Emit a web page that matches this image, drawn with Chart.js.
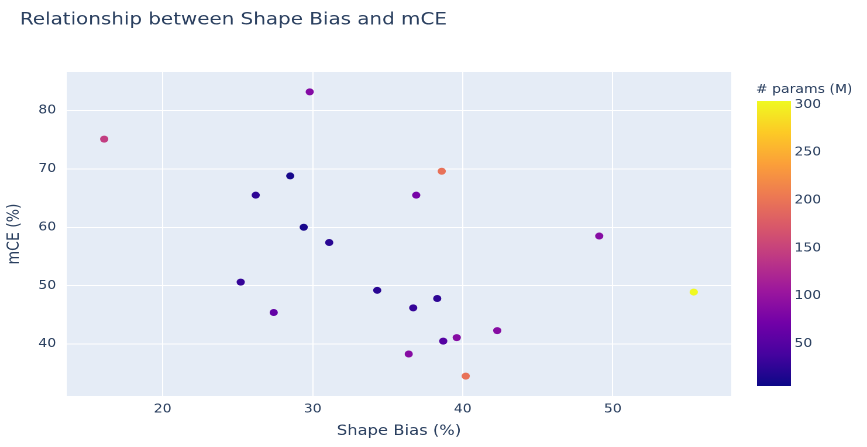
<!DOCTYPE html>
<html>
<head>
<meta charset="utf-8">
<script src="https://cdn.jsdelivr.net/npm/chart.js@4"></script>
<style>
  body { margin: 0; background: #fff; overflow: hidden; }
  /* the reference picture is stretched sideways, so draw narrower and widen */
  #wrap { width: 741px; height: 447px; position: relative; transform: scaleX(1.17); transform-origin: 0 0; }
</style>
</head>
<body>
<div id="wrap"><canvas id="chart"></canvas></div>
<script>
// ===== DATA =====
const shapeBias = [29.8, 16.1, 28.5, 26.2, 29.4, 31.1, 25.2, 27.4, 34.3, 36.7, 38.3, 38.7, 39.6, 42.3, 36.4, 40.2, 38.6, 36.9, 49.1, 55.4];
const mCE       = [83.2, 75.1, 68.8, 65.5, 60.0, 57.4, 50.6, 45.4, 49.2, 46.2, 47.8, 40.5, 41.1, 42.3, 38.3, 34.5, 69.6, 65.5, 58.5, 48.9];
const params    = [86, 144, 11, 25, 12, 22, 29, 60, 22, 29, 25, 50, 88, 88, 88, 197, 197, 75, 88, 304];
const paramMin = 5.7, paramMax = 304;
const paramTicks = [50, 100, 150, 200, 250, 300];
const xTicks = [20, 30, 40, 50];
const yTicks = [40, 50, 60, 70, 80];

const TXT = '#2a3f5f', FONT = '"DejaVu Sans", Verdana, sans-serif';

// plasma colorscale (plotly)
const plasma = ['#0d0887', '#46039f', '#7201a8', '#9c179e', '#bd3786', '#d8576b', '#ed7953', '#fb9f3a', '#fdca26', '#f0f921'];
function hex(h) { return [1, 3, 5].map(i => parseInt(h.substr(i, 2), 16)); }
function plasmaColor(t) {
  t = Math.max(0, Math.min(1, t));
  const p = t * (plasma.length - 1), i = Math.min(Math.floor(p), plasma.length - 2), f = p - i;
  const a = hex(plasma[i]), b = hex(plasma[i + 1]);
  return 'rgb(' + a.map((v, k) => Math.round(v + (b[k] - v) * f)).join(',') + ')';
}
const colorOf = v => plasmaColor((v - paramMin) / (paramMax - paramMin));

// ===== DECORATION PLUGIN =====
const plotlyLook = {
  id: 'plotlyLook',
  beforeDraw(chart) {
    const { ctx, chartArea: a } = chart;
    ctx.save();
    ctx.fillStyle = '#e5ecf6';
    ctx.fillRect(a.left, a.top, a.right - a.left, a.bottom - a.top);
    ctx.restore();
  },
  afterDraw(chart) {
    const { ctx } = chart;
    ctx.save();
    // title
    ctx.fillStyle = TXT;
    ctx.font = '17px ' + FONT;
    ctx.textBaseline = 'middle';
    ctx.fillText('Relationship between Shape Bias and mCE', 17, 20);
    // colorbar
    const cx = 647, cw = 29, top = 101, bot = 386;
    const g = ctx.createLinearGradient(0, bot, 0, top);
    for (let i = 0; i < plasma.length; i++) g.addColorStop(i / (plasma.length - 1), plasma[i]);
    ctx.fillStyle = g;
    ctx.fillRect(cx, top, cw, bot - top);
    ctx.fillStyle = TXT;
    ctx.font = '12px ' + FONT;
    ctx.fillText('# params (M)', 646, 90);
    paramTicks.forEach(v => {
      const y = bot - (v - paramMin) / (paramMax - paramMin) * (bot - top);
      ctx.fillText(String(v), cx + cw + 3, y);
    });
    ctx.restore();
  }
};

// ===== CHART =====
new Chart(document.getElementById('chart'), {
  type: 'scatter',
  data: {
    datasets: [{
      data: shapeBias.map((x, i) => ({ x, y: mCE[i] })),
      backgroundColor: params.map(colorOf),
      borderColor: params.map(colorOf),
      borderWidth: 0,
      pointRadius: 3.5,
      pointHoverRadius: 3.5
    }]
  },
  options: {
    responsive: true,
    maintainAspectRatio: false,
    animation: false,
    devicePixelRatio: 2,
    layout: { padding: { top: 72, right: 116, left: 0, bottom: 0 } },
    plugins: { legend: { display: false }, tooltip: { enabled: false } },
    scales: {
      x: {
        type: 'linear', min: 13.6, max: 57.9,
        afterFit: s => { s.height = 51; },
        afterBuildTicks: s => { s.ticks = xTicks.map(v => ({ value: v })); },
        grid: { color: '#ffffff', lineWidth: 1, drawTicks: false },
        border: { display: false },
        ticks: { color: TXT, font: { family: FONT, size: 12 }, padding: 6 },
        title: { display: true, text: 'Shape Bias (%)', color: TXT, font: { family: FONT, size: 14 }, padding: { top: 0, bottom: 7 } }
      },
      y: {
        type: 'linear', min: 31.1, max: 86.6,
        afterFit: s => { s.width = 57; },
        afterBuildTicks: s => { s.ticks = yTicks.map(v => ({ value: v })); },
        grid: { color: '#ffffff', lineWidth: 1, drawTicks: false },
        border: { display: false },
        ticks: { color: TXT, font: { family: FONT, size: 12 }, padding: 9 },
        title: { display: true, text: 'mCE (%)', color: TXT, font: { family: FONT, size: 14 }, padding: { top: 4, bottom: 0 } }
      }
    }
  },
  plugins: [plotlyLook]
});
</script>
</body>
</html>
